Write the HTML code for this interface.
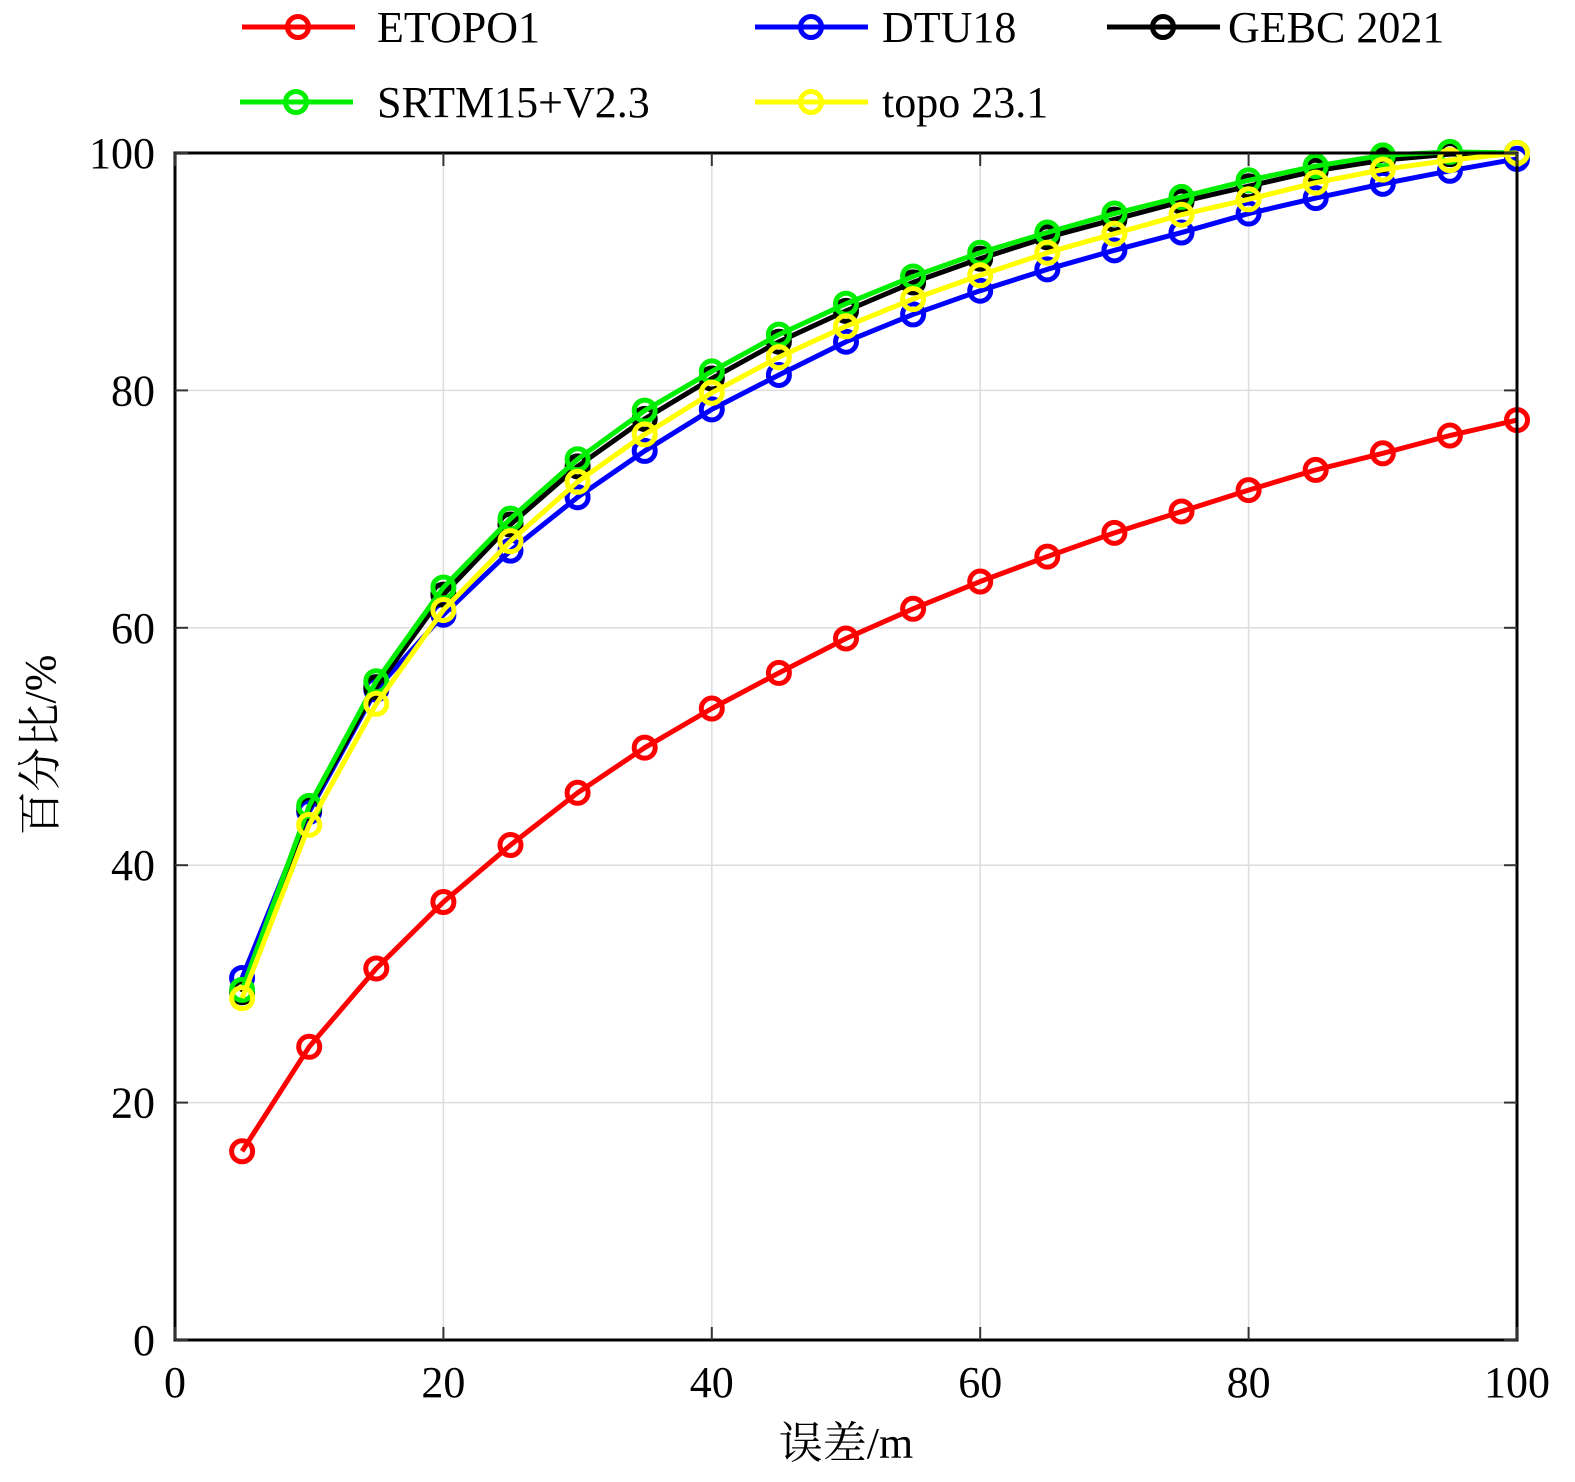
<!DOCTYPE html>
<html><head><meta charset="utf-8"><style>
html,body{margin:0;padding:0;background:#fff;}
svg{display:block;font-family:"Liberation Serif","Noto Serif CJK SC",serif;}
</style></head><body>
<svg id="chart" width="1575" height="1482" viewBox="0 0 1575 1482" xmlns="http://www.w3.org/2000/svg">
<g id="grid"></g>
<g id="series"></g>
<rect x="175" y="153" width="1342" height="1187" fill="none" stroke="#000" stroke-width="3"/>
<g id="ticks" font-size="44"></g>
<text x="846" y="1458" font-size="44" text-anchor="middle">误差/m</text>
<text transform="translate(55,745) rotate(-90)" font-size="44" text-anchor="middle">百分比/%</text>
<g id="legend" font-size="44"></g>
</svg>
<script>
const xValues=[5,10,15,20,25,30,35,40,45,50,55,60,65,70,75,80,85,90,95,100];
const etopo1=[15.9,24.7,31.3,36.9,41.7,46.1,49.9,53.2,56.2,59.1,61.6,63.9,66.0,68.0,69.8,71.6,73.3,74.7,76.2,77.5];
const dtu18=[30.5,44.5,54.8,61.1,66.5,71.0,74.9,78.4,81.3,84.1,86.4,88.4,90.2,91.8,93.3,94.9,96.2,97.4,98.5,99.5];
const gebc2021=[29.3,44.8,55.0,62.8,68.7,73.6,77.6,81.0,84.1,86.7,89.1,91.1,92.9,94.4,95.9,97.2,98.5,99.4,99.9,100];
const srtm15=[29.5,45.0,55.5,63.4,69.2,74.2,78.3,81.6,84.7,87.3,89.6,91.6,93.3,94.9,96.3,97.7,98.9,99.8,100.1,100];
const topo231=[28.8,43.4,53.6,61.5,67.3,72.3,76.3,79.8,82.8,85.4,87.7,89.7,91.6,93.2,94.8,96.1,97.5,98.6,99.4,100];
const xTicks=[0,20,40,60,80,100];
const yTicks=[0,20,40,60,80,100];
const NS="http://www.w3.org/2000/svg";
const X0=175,X1=1517,Y0=1340,Y1=153;
const sx=v=>X0+(v-0)/100*(X1-X0);
const sy=v=>Y0-(v-0)/100*(Y0-Y1);
function mk(tag,attrs,parent){const e=document.createElementNS(NS,tag);for(const k in attrs)e.setAttribute(k,attrs[k]);parent.appendChild(e);return e;}
const grid=document.getElementById('grid'),ticks=document.getElementById('ticks');
xTicks.forEach(t=>{
  const g=mk('line',{x1:sx(t),x2:sx(t),y1:Y1,y2:Y0,stroke:'#ddd','stroke-width':1.5},grid);
  
  
  const a=mk('line',{x1:sx(t),x2:sx(t),y1:Y0,y2:Y0-13,stroke:'#333','stroke-width':2},ticks);
  
  
  const b=mk('line',{x1:sx(t),x2:sx(t),y1:Y1,y2:Y1+13,stroke:'#333','stroke-width':2},ticks);
  
  
  const l=mk('text',{x:sx(t),y:1397,'text-anchor':'middle'},ticks);l.textContent=t;
  
  
});
yTicks.forEach(t=>{
  const g=mk('line',{x1:X0,x2:X1,y1:sy(t),y2:sy(t),stroke:'#ddd','stroke-width':1.5},grid);
  
  
  const a=mk('line',{x1:X0,x2:X0+13,y1:sy(t),y2:sy(t),stroke:'#333','stroke-width':2},ticks);
  
  
  const b=mk('line',{x1:X1,x2:X1-13,y1:sy(t),y2:sy(t),stroke:'#333','stroke-width':2},ticks);
  
  
  const l=mk('text',{x:155,y:sy(t)+15,'text-anchor':'end'},ticks);l.textContent=t;
  
  
});
const seriesG=document.getElementById('series');
const defs=[['etopo1',etopo1,'#ff0000'],['dtu18',dtu18,'#0000ff'],['gebc-2021',gebc2021,'#000000'],['srtm15-v2-3',srtm15,'#00ee00'],['topo-23-1',topo231,'#ffff00']];
defs.forEach(([name,vals,col])=>{
  const g=mk('g',{},seriesG);
  
  
  const pts=xValues.map((x,i)=>sx(x)+','+sy(vals[i])).join(' ');
  const pl=mk('polyline',{points:pts,fill:'none',stroke:col,'stroke-width':5,'stroke-linejoin':'round'},g);
  
  
  xValues.forEach((x,i)=>{
    const c=mk('circle',{cx:sx(x),cy:sy(vals[i]),r:10.5,fill:'none',stroke:col,'stroke-width':5},g);
    
    
  });
});
const legend=document.getElementById('legend');
const items=[['ETOPO1','#ff0000',242,377,27],['DTU18','#0000ff',755,882,27],['GEBC 2021','#000000',1107,1228,27],['SRTM15+V2.3','#00ee00',240,377,102],['topo 23.1','#ffff00',755,882,102]];
items.forEach(([label,col,lx,tx,y])=>{
  const g=mk('g',{},legend);
  
  
  mk('line',{x1:lx,x2:lx+113,y1:y,y2:y,stroke:col,'stroke-width':5},g);
  mk('circle',{cx:lx+56,cy:y,r:10.5,fill:'none',stroke:col,'stroke-width':5},g);
  const t=mk('text',{x:tx,y:y+15},g);t.textContent=label;
});
</script>
</body></html>
